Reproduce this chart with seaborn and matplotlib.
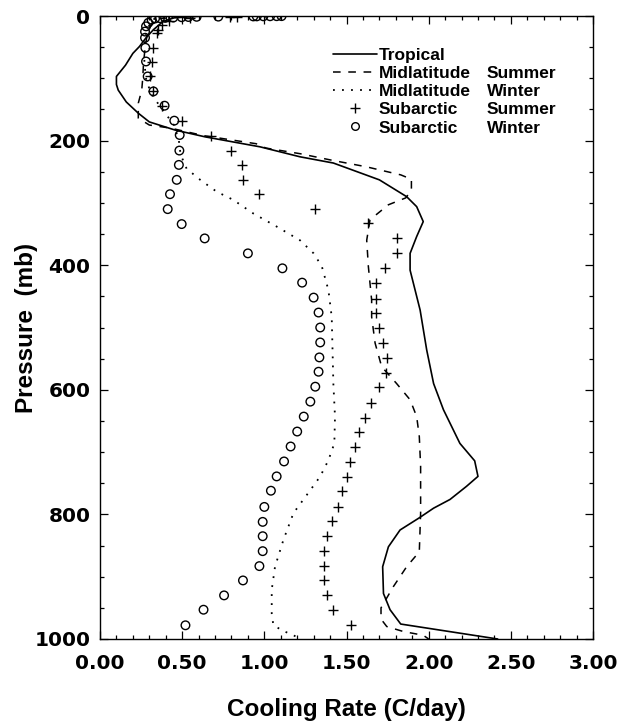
import matplotlib
matplotlib.use("Agg")
import matplotlib.pyplot as plt
from matplotlib.lines import Line2D
from matplotlib.ticker import MultipleLocator
import numpy as np
import pandas as pd
import seaborn as sns

# Longwave cooling rate (C/day) versus pressure (mb) for five standard atmospheres
trop_p = [0.5, 3, 8.5, 22, 35, 49, 60, 79, 97, 110, 119, 138, 156, 170, 183, 194, 210, 226,
          236, 263, 290, 306, 330, 354, 381, 408, 472, 536, 590, 632, 686, 714, 739, 755,
          776, 790, 806, 825, 852, 884, 927, 953, 976, 1000]
trop_rate = [0.60, 0.45, 0.385, 0.325, 0.28, 0.24, 0.20, 0.155, 0.10, 0.10, 0.111, 0.16,
             0.233, 0.30, 0.456, 0.64, 0.974, 1.217, 1.42, 1.70, 1.866, 1.927, 1.967, 1.927,
             1.887, 1.887, 1.948, 1.988, 2.03, 2.09, 2.19, 2.28, 2.30, 2.23, 2.13, 2.03, 1.94,
             1.826, 1.755, 1.72, 1.725, 1.765, 1.83, 2.42]

mls_p = [1, 5, 25, 50, 75, 100, 119, 140, 164, 175, 180, 192, 205, 212, 221, 232, 242, 255,
         262, 280, 292, 303, 327, 360, 402, 456, 483, 525, 563, 590, 616, 643, 675, 723, 772,
         798, 860, 884, 916, 950, 968, 980, 988, 994, 1000]
mls_rate = [0.50, 0.33, 0.29, 0.275, 0.265, 0.26, 0.254, 0.233, 0.233, 0.30, 0.43, 0.63,
            0.95, 1.01, 1.217, 1.42, 1.62, 1.83, 1.895, 1.895, 1.86, 1.755, 1.643, 1.623,
            1.633, 1.653, 1.653, 1.674, 1.714, 1.805, 1.887, 1.927, 1.943, 1.951, 1.951,
            1.951, 1.943, 1.866, 1.785, 1.71, 1.71, 1.745, 1.846, 1.967, 2.0]

mlw_p = [1, 5, 25, 50, 75, 100, 125, 150, 175, 200, 222, 245, 263, 282, 295, 317, 338, 360,
         381, 402, 440, 483, 536, 590, 643, 686, 713, 739, 761, 798, 841, 884, 921, 959,
         978, 987, 994, 1000]
mlw_rate = [0.50, 0.32, 0.28, 0.27, 0.27, 0.28, 0.31, 0.38, 0.45, 0.48, 0.49, 0.527, 0.61,
            0.71, 0.81, 0.933, 1.075, 1.217, 1.30, 1.35, 1.39, 1.41, 1.415, 1.42, 1.43,
            1.426, 1.39, 1.34, 1.28, 1.177, 1.116, 1.065, 1.045, 1.045, 1.055, 1.115,
            1.177, 1.22]

sas_p = [1, 2, 4, 8, 14, 22, 28, 52, 74, 97, 120, 144, 168, 192, 216, 239, 263, 286, 310,
         333, 357, 381, 404, 429, 454, 477, 501, 525, 549, 573, 596, 621, 645, 668, 692, 716,
         740, 763, 788, 811, 835, 859, 883, 906, 930, 953, 978]
sas_rate = [0.835, 0.79, 0.55, 0.42, 0.38, 0.355, 0.345, 0.325, 0.314, 0.304, 0.32, 0.375,
            0.50, 0.674, 0.80, 0.866, 0.87, 0.97, 1.31, 1.63, 1.81, 1.81, 1.735, 1.68, 1.68,
            1.68, 1.70, 1.72, 1.745, 1.74, 1.70, 1.65, 1.61, 1.575, 1.55, 1.52, 1.50, 1.475,
            1.45, 1.414, 1.38, 1.365, 1.363, 1.365, 1.383, 1.42, 1.528]

saw_p = [0.2, 0.3, 0.4, 0.5, 0.6, 0.7, 1.0, 1.3, 1.6, 2.0, 2.5, 3.0, 3.5, 4.0, 6, 11, 16.6,
         25, 35, 51, 73, 97, 121, 144, 168, 191, 216, 239, 263, 286, 310, 334, 357, 381, 405,
         428, 452, 476, 500, 524, 548, 571, 595, 619, 643, 667, 691, 715, 739, 762, 788, 812,
         835, 859, 883, 906, 930, 953, 978]
saw_rate = [1.105, 1.075, 1.035, 0.994, 0.954, 0.933, 0.72, 0.588, 0.538, 0.497, 0.446,
            0.396, 0.365, 0.335, 0.314, 0.294, 0.28, 0.274, 0.274, 0.276, 0.28, 0.29, 0.325,
            0.393, 0.452, 0.485, 0.483, 0.48, 0.467, 0.426, 0.412, 0.497, 0.637, 0.90, 1.11,
            1.23, 1.30, 1.33, 1.34, 1.34, 1.335, 1.33, 1.31, 1.28, 1.24, 1.20, 1.16, 1.12,
            1.075, 1.04, 1.00, 0.99, 0.99, 0.99, 0.97, 0.87, 0.755, 0.63, 0.52]

profiles = ["Tropical", "Midlatitude Summer", "Midlatitude Winter",
            "Subarctic Summer", "Subarctic Winter"]
first_words = ["Tropical", "Midlatitude", "Midlatitude", "Subarctic", "Subarctic"]
second_words = ["", "Summer", "Winter", "Summer", "Winter"]

series = [(trop_p, trop_rate), (mls_p, mls_rate), (mlw_p, mlw_rate),
          (sas_p, sas_rate), (saw_p, saw_rate)]
df = pd.concat(
    [pd.DataFrame({"pressure": p, "rate": r, "profile": name})
     for name, (p, r) in zip(profiles, series)],
    ignore_index=True,
)

sns.set_theme(style="ticks")
plt.rcParams["font.family"] = ["Liberation Sans", "DejaVu Sans"]
plt.rcParams["text.color"] = "black"
plt.rcParams["axes.labelcolor"] = "black"

fig = plt.figure(figsize=(6.24, 7.23), dpi=100)
ax = fig.add_axes([100 / 624, 1 - 639 / 723, 493 / 624, 623 / 723])

line_styles = {
    "Tropical": "-",
    "Midlatitude Summer": (0, (5, 5)),
    "Midlatitude Winter": (0, (1, 4)),
}
line_widths = {"Tropical": 1.2, "Midlatitude Summer": 1.1, "Midlatitude Winter": 1.3}
for name, ls in line_styles.items():
    sns.lineplot(data=df[df["profile"] == name], x="rate", y="pressure", orient="y",
                 estimator=None, color="black", linewidth=line_widths[name],
                 linestyle=ls, ax=ax)

sns.scatterplot(data=df[df["profile"] == "Subarctic Summer"], x="rate", y="pressure",
                marker="+", color="black", s=55, linewidth=1.0, ax=ax, zorder=3)
sns.scatterplot(data=df[df["profile"] == "Subarctic Winter"], x="rate", y="pressure",
                marker="o", facecolor="none", edgecolor="black", s=38, linewidth=1.0,
                ax=ax, zorder=3)

ax.set_xlim(0, 3)
ax.set_ylim(1000, 0)
ax.xaxis.set_major_locator(MultipleLocator(0.5))
ax.xaxis.set_minor_locator(MultipleLocator(0.1))
ax.yaxis.set_major_locator(MultipleLocator(200))
ax.yaxis.set_minor_locator(MultipleLocator(50))
ax.set_xticklabels([f"{v:.2f}" for v in ax.get_xticks()])

for side in ["left", "right", "top", "bottom"]:
    ax.spines[side].set_linewidth(1.0)
    ax.spines[side].set_color("black")
ax.tick_params(which="both", direction="in", top=True, right=True, color="black", width=0.9)
ax.tick_params(which="major", length=6)
ax.tick_params(which="minor", length=3)
ax.tick_params(axis="x", which="major", pad=10.5)
ax.tick_params(axis="y", which="major", pad=7)
for lab in ax.get_xticklabels() + ax.get_yticklabels():
    lab.set_fontfamily("DejaVu Sans")
    lab.set_fontweight("bold")
    lab.set_fontsize(14.5)
    lab.set_color("black")

ax.set_xlabel("Cooling Rate (C/day)", fontsize=17.5, fontweight="bold", color="black")
ax.set_ylabel("Pressure  (mb)", fontsize=17.5, fontweight="bold", color="black")
ax.xaxis.set_label_coords(0.5, -0.094)
ax.yaxis.set_label_coords(-0.126, 0.5)

handles = [
    Line2D([], [], color="black", lw=1.2, ls="-"),
    Line2D([], [], color="black", lw=1.1, ls=(0, (5, 5))),
    Line2D([], [], color="black", lw=1.3, ls=(0, (1, 4))),
    Line2D([], [], color="black", ls="", marker="+", markersize=7, mew=1.0),
    Line2D([], [], color="black", ls="", marker="o", markersize=5.5, mew=1.0,
           markerfacecolor="none"),
]
leg = ax.legend(handles, first_words, loc="upper left",
                bbox_to_anchor=((333 - 100) / 493, (639 - 48) / 623),
                frameon=False, borderpad=0, borderaxespad=0, handlelength=2.55,
                handletextpad=0.1, labelspacing=0.17,
                prop={"family": "Liberation Sans", "weight": "bold", "size": 12.5})
for txt in leg.get_texts():
    txt.set_color("black")

fig.canvas.draw()
renderer = fig.canvas.get_renderer()
for txt, word in zip(leg.get_texts(), second_words):
    if not word:
        continue
    bb = txt.get_window_extent(renderer)
    fig.text(487 / 624, bb.y0 / fig.bbox.height, word, ha="left", va="bottom",
             fontsize=12.5, fontweight="bold", family="Liberation Sans", color="black")

fig.savefig("out.png", dpi=100, facecolor="white")
